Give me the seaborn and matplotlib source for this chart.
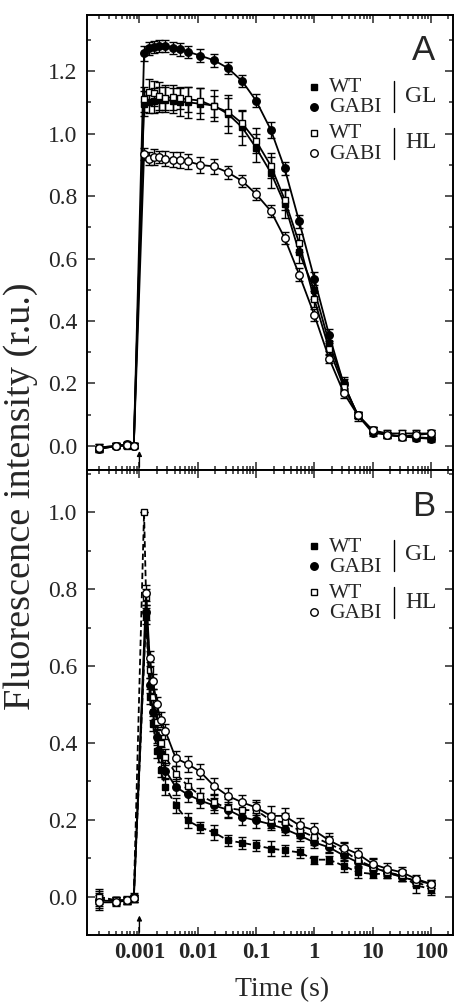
"""Flash-induced fluorescence decay, WT vs GABI under GL and HL."""

import matplotlib

matplotlib.use("Agg")
import matplotlib.pyplot as plt
import matplotlib.ticker as mticker
import numpy as np
import pandas as pd
import seaborn as sns

nan = np.nan

# time points (s); the flash is given at 1 ms
time_pre = [0.0002, 0.0004, 0.0006, 0.0008]
time_a = time_pre + [0.0012, 0.00145, 0.0018, 0.0022, 0.0028, 0.0038, 0.005, 0.0069,
                     0.011, 0.019, 0.033, 0.058, 0.10, 0.18, 0.31, 0.55, 1.0, 1.8,
                     3.2, 5.6, 10, 18, 32, 56, 100]
time_b = time_pre + [0.0012, 0.0013, 0.0015, 0.0017, 0.002, 0.0023, 0.0028, 0.0042,
                     0.0067, 0.011, 0.019, 0.033, 0.058, 0.10, 0.18, 0.31, 0.56, 1.0,
                     1.8, 3.2, 5.6, 10, 18, 32, 56, 100]

# panel A
a_wt_gl = [-0.01, 0.0, 0.005, 0.0, 1.096, 1.10, 1.105, 1.108, 1.108, 1.105, 1.102, 1.10,
           1.096, 1.09, 1.063, 1.02, 0.955, 0.875, 0.775, 0.62, 0.50, 0.33, 0.20, 0.095,
           0.05, 0.035, 0.03, 0.028, 0.025]
a_gabi_gl = [-0.01, 0.0, 0.005, 0.0, 1.257, 1.273, 1.278, 1.280, 1.281, 1.275, 1.270, 1.262,
             1.250, 1.235, 1.210, 1.168, 1.106, 1.012, 0.889, 0.719, 0.536, 0.355, 0.198,
             0.098, 0.042, 0.036, 0.031, 0.026, 0.023]
a_wt_hl = [-0.005, 0.0, 0.0, 0.0, 1.11, 1.135, 1.13, 1.12, 1.115, 1.117, 1.113, 1.11,
           1.106, 1.087, 1.07, 1.033, 0.977, 0.897, 0.789, 0.65, 0.47, 0.31, 0.19, 0.10,
           0.05, 0.04, 0.04, 0.04, 0.04]
a_gabi_hl = [-0.005, 0.0, 0.003, 0.0, 0.935, 0.92, 0.925, 0.925, 0.92, 0.917, 0.915, 0.911,
             0.90, 0.895, 0.876, 0.848, 0.807, 0.752, 0.666, 0.549, 0.42, 0.28, 0.17,
             0.098, 0.05, 0.035, 0.03, 0.035, 0.04]

err_a_wt_gl = [0.01, 0.008, 0.008, 0.008, 0.04, 0.035, 0.04, 0.04, 0.04, 0.04, 0.045, 0.05,
               0.05, 0.05, 0.06, 0.055, 0.045, 0.05, 0.045, 0.035, 0.03, 0.025, 0.02, 0.015,
               0.01, 0.01, 0.01, 0.01, 0.01]
err_a_gabi_gl = [0.01, 0.008, 0.008, 0.008, 0.025, 0.02, 0.02, 0.02, 0.02, 0.02, 0.02, 0.02,
                 0.02, 0.02, 0.02, 0.02, 0.02, 0.025, 0.02, 0.02, 0.02, 0.02, 0.015, 0.01,
                 0.01, 0.01, 0.01, 0.01, 0.01]
err_a_wt_hl = [0.01, 0.008, 0.008, 0.008, 0.04, 0.04, 0.04, 0.045, 0.04, 0.04, 0.035, 0.04,
               0.04, 0.035, 0.045, 0.04, 0.04, 0.04, 0.035, 0.03, 0.025, 0.02, 0.015, 0.01,
               0.01, 0.01, 0.01, 0.01, 0.01]
err_a_gabi_hl = [0.01, 0.008, 0.008, 0.008, 0.02, 0.02, 0.025, 0.02, 0.025, 0.025, 0.025,
                 0.025, 0.025, 0.025, 0.02, 0.02, 0.02, 0.02, 0.02, 0.02, 0.02, 0.015, 0.015,
                 0.01, 0.01, 0.01, 0.01, 0.01, 0.01]

# panel B (normalised)
b_wt_gl = [-0.005, -0.01, -0.01, -0.005, nan, 0.73, 0.52, 0.45, 0.38, 0.33, 0.285, 0.237,
           0.198, 0.18, 0.167, 0.146, 0.14, 0.133, 0.125, 0.12, 0.115, 0.096, 0.096, 0.08,
           0.063, 0.059, 0.059, 0.055, 0.029, 0.02]
b_gabi_gl = [-0.01, -0.012, -0.008, -0.005, nan, 0.74, 0.55, 0.48, 0.415, 0.37, 0.328, 0.285,
             0.266, 0.25, 0.237, 0.226, 0.207, 0.198, 0.188, 0.176, 0.159, 0.141, 0.128,
             0.107, 0.089, 0.076, 0.063, 0.05, 0.042, 0.033]
b_wt_hl = [0.0, -0.01, -0.01, 0.0, 1.0, 0.78, 0.59, 0.52, 0.454, 0.40, 0.363, 0.32, 0.289,
           0.263, 0.245, 0.23, 0.225, 0.225, 0.198, 0.193, 0.172, 0.155, 0.137, 0.12, 0.094,
           0.078, 0.063, 0.055, 0.037, 0.025]
b_gabi_hl = [-0.015, -0.015, -0.01, -0.005, nan, 0.79, 0.62, 0.56, 0.50, 0.46, 0.43, 0.36,
             0.345, 0.325, 0.288, 0.262, 0.245, 0.232, 0.21, 0.21, 0.185, 0.172, 0.146,
             0.127, 0.111, 0.085, 0.072, 0.063, 0.046, 0.033]

err_b_wt_gl = [0.02, 0.01, 0.01, 0.01, nan, 0.02, 0.02, 0.02, 0.02, 0.02, 0.02, 0.02, 0.02,
               0.015, 0.02, 0.015, 0.015, 0.015, 0.02, 0.015, 0.015, 0.01, 0.01, 0.015,
               0.015, 0.01, 0.01, 0.015, 0.02, 0.015]
err_b_gabi_gl = [0.02, 0.01, 0.01, 0.01, nan, 0.02, 0.02, 0.02, 0.02, 0.02, 0.02, 0.02, 0.02,
                 0.02, 0.02, 0.02, 0.02, 0.02, 0.015, 0.015, 0.015, 0.015, 0.015, 0.015,
                 0.015, 0.01, 0.01, 0.01, 0.01, 0.01]
err_b_wt_hl = [0.02, 0.01, 0.01, 0.01, 0.0, 0.02, 0.02, 0.02, 0.02, 0.02, 0.02, 0.02, 0.02,
               0.02, 0.02, 0.025, 0.02, 0.02, 0.02, 0.025, 0.02, 0.02, 0.02, 0.02, 0.015,
               0.02, 0.015, 0.015, 0.01, 0.015]
err_b_gabi_hl = [0.02, 0.01, 0.01, 0.01, nan, 0.02, 0.02, 0.02, 0.02, 0.02, 0.02, 0.02, 0.02,
                 0.02, 0.02, 0.02, 0.02, 0.02, 0.025, 0.02, 0.02, 0.02, 0.02, 0.015, 0.015,
                 0.015, 0.015, 0.015, 0.01, 0.01]

xtick_vals = [0.001, 0.01, 0.1, 1, 10, 100]
xtick_labels = ["0.001", "0.01", "0.1", "1", "10", "100"]

# (label, marker, face colour, GL/HL)
series_style = [
    ("WT", "s", "black", "GL"),
    ("GABI", "o", "black", "GL"),
    ("WT", "s", "white", "HL"),
    ("GABI", "o", "white", "HL"),
]

W, H = 454, 1006


def fig_xy(px, py):
    return px / W, 1 - py / H


def draw_series(ax, t, y, err, marker, face, dashed):
    df = pd.DataFrame({"t": t, "y": y})
    sns.lineplot(data=df, x="t", y="y", ax=ax, color="black", lw=1.3, errorbar=None,
                 marker=marker, markersize=5.4 if marker == "o" else 5.0,
                 markerfacecolor=face, markeredgecolor="black", markeredgewidth=1.0,
                 linestyle=(0, (3.5, 1.8)) if dashed else "-", zorder=3)
    ax.errorbar(t, y, yerr=err, fmt="none", ecolor="black", elinewidth=1.0,
                capsize=2.6, capthick=1.0, zorder=2)


def style_axes(ax, ylim, ymax_tick):
    ax.set_xscale("log")
    ax.set_xlim(1.26e-4, 240)
    ax.set_ylim(*ylim)
    ax.set_xticks(xtick_vals, labels=xtick_labels)
    ax.xaxis.set_minor_locator(mticker.LogLocator(base=10, subs=np.arange(2, 10), numticks=20))
    ax.xaxis.set_minor_formatter(mticker.NullFormatter())
    ax.set_yticks(np.arange(0, ymax_tick + 0.01, 0.2))
    ax.yaxis.set_major_formatter(mticker.FormatStrFormatter("%.1f"))
    ax.yaxis.set_minor_locator(mticker.MultipleLocator(0.1))
    ax.tick_params(which="both", direction="in", top=True, right=True, width=1.1)
    ax.tick_params(which="major", length=5.5)
    ax.tick_params(which="minor", length=3)
    ax.tick_params(axis="y", labelsize=17, pad=7)
    ax.tick_params(axis="x", labelsize=16.5, pad=5)
    for sp in ax.spines.values():
        sp.set_linewidth(1.4)
        sp.set_color("black")
    ax.set_xlabel("")
    ax.set_ylabel("")
    # flash arrow at 1 ms
    ax.annotate("", xy=(0.001, ylim[0] + 0.07 * (ylim[1] - ylim[0]) / 1.46),
                xytext=(0.001, ylim[0]),
                arrowprops=dict(arrowstyle="-|>", color="black", lw=1.0, mutation_scale=7))


def draw_legend(fig, y0):
    for i, (lab, marker, face, light) in enumerate(series_style):
        yy = y0 + [0, 20, 46, 66][i]
        fig.add_artist(plt.Line2D([fig_xy(314, 0)[0]], [fig_xy(0, yy)[1]], marker=marker,
                                  markersize=5.4 if marker == "o" else 5.0,
                                  markerfacecolor=face, markeredgecolor="black",
                                  markeredgewidth=1.0, linestyle="none"))
        fig.text(*fig_xy(329, yy + 1), lab, fontsize=15.5, ha="left", va="center")
    for light, yy in (("GL", y0 + 9), ("HL", y0 + 56)):
        fig.add_artist(plt.Line2D([fig_xy(394, 0)[0]] * 2,
                                  [fig_xy(0, yy - 15)[1], fig_xy(0, yy + 16)[1]],
                                  color="black", lw=1.0))
        fig.text(*fig_xy(405, yy), light, fontsize=17, ha="left", va="center")


sns.set_theme(style="ticks")
plt.rcParams["font.family"] = ["Liberation Serif", "DejaVu Serif"]

fig = plt.figure(figsize=(W / 100, H / 100), dpi=100)
ax_a = fig.add_axes([87 / W, 1 - 470 / H, 366 / W, 455 / H])
ax_b = fig.add_axes([87 / W, 1 - 935 / H, 366 / W, 465 / H])

panel_a = [(a_wt_gl, err_a_wt_gl), (a_gabi_gl, err_a_gabi_gl),
           (a_wt_hl, err_a_wt_hl), (a_gabi_hl, err_a_gabi_hl)]
panel_b = [(b_wt_gl, err_b_wt_gl), (b_gabi_gl, err_b_gabi_gl),
           (b_wt_hl, err_b_wt_hl), (b_gabi_hl, err_b_gabi_hl)]

for (y, err), (lab, marker, face, light) in zip(panel_a, series_style):
    draw_series(ax_a, time_a, y, err, marker, face, dashed=False)
for (y, err), (lab, marker, face, light) in zip(panel_b, series_style):
    draw_series(ax_b, time_b, y, err, marker, face, dashed=(lab == "WT"))

style_axes(ax_a, (-0.077, 1.38), 1.2)
style_axes(ax_b, (-0.10, 1.11), 1.0)
ax_a.tick_params(axis="x", labelbottom=False)
for lbl in ax_b.get_xticklabels():
    lbl.set_fontweight("bold")

ax_a.text(*fig_xy(424, 50), "A", transform=fig.transFigure, fontsize=25,
          family="Liberation Sans", ha="center", va="center")
ax_b.text(*fig_xy(424, 507), "B", transform=fig.transFigure, fontsize=25,
          family="Liberation Sans", ha="center", va="center")

draw_legend(fig, 87)
draw_legend(fig, 546)

fig.text(*fig_xy(282, 990), "Time (s)", fontsize=20, ha="center", va="center")
fig.text(*fig_xy(21, 496), "Fluorescence intensity (r.u.)", fontsize=27.5, rotation=90,
         ha="center", va="center")

fig.savefig("out.png", dpi=100)
plt.close(fig)
